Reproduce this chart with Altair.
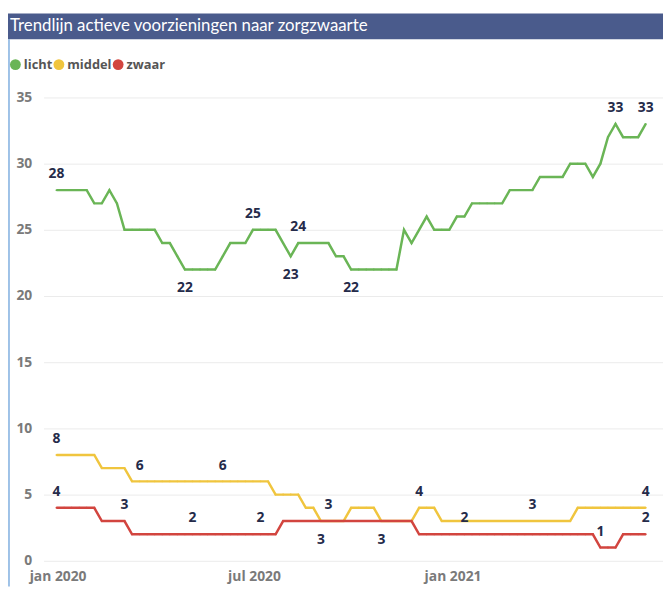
import altair as alt
import pandas as pd

title_text = "Trendlijn actieve voorzieningen naar zorgzwaarte"
series_names = ["licht", "middel", "zwaar"]
series_colors = ["#6AB556", "#F0C53E", "#D2453F"]

start_date = "2019-12-31"
n_weeks = 79

licht = [28, 28, 28, 28, 28, 27, 27, 28, 27, 25, 25, 25, 25, 25, 24, 24, 23, 22, 22, 22,
         22, 22, 23, 24, 24, 24, 25, 25, 25, 25, 24, 23, 24, 24, 24, 24, 24, 23, 23, 22,
         22, 22, 22, 22, 22, 22, 25, 24, 25, 26, 25, 25, 25, 26, 26, 27, 27, 27, 27, 27,
         28, 28, 28, 28, 29, 29, 29, 29, 30, 30, 30, 29, 30, 32, 33, 32, 32, 32, 33]
middel = [8, 8, 8, 8, 8, 8, 7, 7, 7, 7, 6, 6, 6, 6, 6, 6, 6, 6, 6, 6,
          6, 6, 6, 6, 6, 6, 6, 6, 6, 5, 5, 5, 5, 4, 4, 3, 3, 3, 3, 4,
          4, 4, 4, 3, 3, 3, 3, 3, 4, 4, 4, 3, 3, 3, 3, 3, 3, 3, 3, 3,
          3, 3, 3, 3, 3, 3, 3, 3, 3, 4, 4, 4, 4, 4, 4, 4, 4, 4, 4]
zwaar = [4, 4, 4, 4, 4, 4, 3, 3, 3, 3, 2, 2, 2, 2, 2, 2, 2, 2, 2, 2,
         2, 2, 2, 2, 2, 2, 2, 2, 2, 2, 3, 3, 3, 3, 3, 3, 3, 3, 3, 3,
         3, 3, 3, 3, 3, 3, 3, 3, 2, 2, 2, 2, 2, 2, 2, 2, 2, 2, 2, 2,
         2, 2, 2, 2, 2, 2, 2, 2, 2, 2, 2, 2, 1, 1, 1, 2, 2, 2, 2]

# data labels: (week index, placement)
labels_licht = [(0, "above"), (17, "below"), (26, "above"), (31, "below"), (32, "above"),
                (39, "below"), (74, "above"), (78, "above")]
labels_middel = [(0, "above"), (11, "above"), (22, "above"), (35, "below"), (43, "below"),
                 (48, "above"), (63, "above"), (78, "above")]
labels_zwaar = [(0, "above"), (9, "above"), (18, "above"), (27, "above"), (36, "above"),
                (54, "above"), (72, "above"), (78, "above")]

x_tick_keys = ["2020-01", "2020-07", "2021-01"]
x_tick_labels = ["jan 2020", "jul 2020", "jan 2021"]
y_ticks = [0, 5, 10, 15, 20, 25, 30, 35]

dates = pd.date_range(start_date, periods=n_weeks, freq="7D")
rows = []
for name, vals, labs in [("licht", licht, labels_licht), ("middel", middel, labels_middel),
                         ("zwaar", zwaar, labels_zwaar)]:
    labmap = dict(labs)
    for i, v in enumerate(vals):
        rows.append({"datum": dates[i].strftime("%Y-%m-%dT00:00:00"), "reeks": name,
                     "waarde": v, "pos": labmap.get(i, "")})
df = pd.DataFrame(rows)

FONT = "Open Sans"
label_expr = " : ".join(
    f"timeFormat(datum.value, '%Y-%m') == '{k}' ? '{l}'" for k, l in zip(x_tick_keys, x_tick_labels)
) + " : ''"

x_enc = alt.X(
    "datum:T",
    scale=alt.Scale(domain=[alt.DateTime(year=2019, month=12, date=19),
                            alt.DateTime(year=2021, month=7, date=15)]),
    axis=alt.Axis(
        title=None, grid=False, domain=False, ticks=False,
        values=[alt.DateTime(year=int(k[:4]), month=int(k[5:]), date=1) for k in x_tick_keys],
        labelExpr=label_expr, labelPadding=9, labelFont=FONT, labelFontSize=14,
        labelFontWeight="bold", labelColor="#7A7A7A", labelOverlap=False,
    ),
)
y_enc = alt.Y(
    "waarde:Q",
    scale=alt.Scale(domain=[0, 35], nice=False),
    axis=alt.Axis(
        title=None, values=y_ticks, domain=False, ticks=False, grid=True,
        gridColor="#EBEBEB", gridWidth=1, labelPadding=12, labelFont=FONT,
        labelFontSize=14, labelFontWeight="bold", labelColor="#7A7A7A",
    ),
)
color_scale = alt.Scale(domain=series_names, range=series_colors)
legend = alt.Legend(
    title=None, orient="none", direction="horizontal", legendX=-35, legendY=-40,
    symbolType="circle", symbolSize=120, symbolOpacity=1, symbolStrokeWidth=0,
    labelFont=FONT, labelFontSize=13, labelFontWeight="bold", labelColor="#555555",
    labelOffset=2, columnPadding=0, padding=0,
)
color_enc = alt.Color("reeks:N", scale=color_scale, legend=legend)

base = alt.Chart(df)

legend_pts = base.mark_circle(size=4, opacity=1).encode(x=x_enc, y=y_enc, color=color_enc)
lines = base.mark_line(strokeWidth=2.5).encode(x=x_enc, y=y_enc, color=color_enc)
above = base.transform_filter(alt.datum.pos == "above").mark_text(
    dy=-16, font=FONT, fontSize=14, fontWeight="bold", color="#252B4A", baseline="middle"
).encode(x=x_enc, y=y_enc, text="waarde:Q")
below = base.transform_filter(alt.datum.pos == "below").mark_text(
    dy=19, font=FONT, fontSize=14, fontWeight="bold", color="#252B4A", baseline="middle"
).encode(x=x_enc, y=y_enc, text="waarde:Q")

title_df = pd.DataFrame({"t": [title_text]})
title_bar = alt.Chart(title_df).mark_rect(color="#4A5B8C").encode(
    x=alt.value(-36), x2=alt.value(627), y=alt.value(-85), y2=alt.value(-59)
)
title_txt = alt.Chart(title_df).mark_text(
    align="left", baseline="middle", color="white", fontSize=17, font="Lato"
).encode(x=alt.value(-34), y=alt.value(-72), text="t:N")
border = alt.Chart(title_df).mark_rule(color="#7FAEE0", strokeWidth=1.5).encode(
    x=alt.value(-35), y=alt.value(-59), y2=alt.value(495)
)

chart = alt.layer(title_bar, title_txt, border, legend_pts, lines, above, below).properties(
    width=627, height=469,
    padding={"left": 36, "top": 87, "right": 0, "bottom": 26},
    autosize=alt.AutoSizeParams(type="none"),
).configure_view(stroke=None)

chart.save("out.html", embed_options={"renderer": "svg", "actions": False})
